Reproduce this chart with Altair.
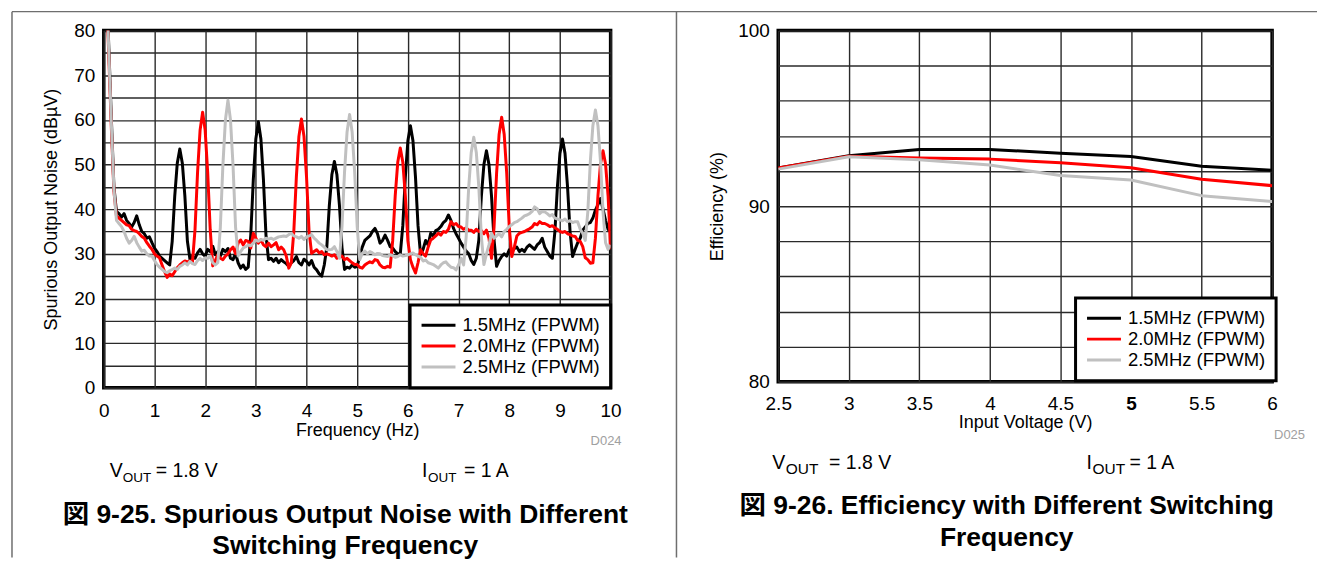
import altair as alt
import pandas as pd

# ---------------- data ----------------
FREQ = [round(0.05 * i, 2) for i in range(201)]  # Hz sampling grid 0..10
SERIES = ["1.5MHz (FPWM)", "2.0MHz (FPWM)", "2.5MHz (FPWM)"]
COLORS = ["#000000", "#ff0000", "#c0c0c0"]

NOISE_15 = [
    100, 92, 76, 60, 45, 39.5, 39, 38.2, 39, 37.5, 36.8, 36, 37, 38.5, 36.5, 35, 34.5, 33.5, 33.8, 32.5,
    31.3, 30.5, 29.5, 29, 28.5, 28, 27.5, 32.8, 42.9, 50.3, 53.5, 50.3, 42.9, 32.8, 28.8, 29.5, 29, 30.2, 31, 30,
    29.5, 31, 30.5, 31.7, 29.8, 30.5, 29.5, 31, 30.5, 31.2, 29, 28.7, 30.1, 28, 26.8, 27.5, 26.5, 27, 34.2, 46.6,
    55.7, 59.6, 55.7, 46.6, 34.2, 28.7, 29, 28.3, 29, 28, 28.7, 28.2, 27.8, 27.2, 28, 28.5, 29.4, 28, 27.5, 28.8,
    28.3, 27.5, 28.5, 27, 26.4, 25.5, 25, 27.5, 31.4, 40.8, 47.7, 50.7, 47.7, 40.8, 31.4, 26.5, 27, 26.8, 27.5, 27,
    27.2, 29.5, 31.5, 33, 33.5, 34, 35, 35.7, 34.5, 32.4, 33, 34.2, 33, 31.6, 31.3, 30.5, 30, 30, 36.3, 47.2,
    55.3, 58.7, 55.3, 47.2, 36.3, 29.8, 31, 33, 32, 34.6, 34, 35.2, 35.5, 36.1, 37, 37.5, 38.7, 37.5, 35.7, 34.5,
    33.5, 32.4, 31.5, 30.6, 30, 28.5, 27.6, 29, 33.1, 42.9, 50, 53.1, 50, 42.9, 33.1, 27.2, 28.5, 29.4, 30, 29.5,
    30.9, 30.5, 31.2, 31.5, 30.5, 31, 30.5, 31.5, 32, 31.5, 31, 32, 32.5, 33.5, 31.5, 30.5, 29.5, 29, 34.9, 45,
    52.5, 55.7, 52.5, 45, 34.9, 29.4, 31, 32.5, 33.5, 35.3, 36, 36.8, 37, 38, 39.8, 41, 42.4, 40, 37.5, 35.5,
    35,
]
NOISE_20 = [
    100, 90, 74, 58, 44, 38.5, 38, 37.5, 37, 36.5, 36.3, 35.5, 35.2, 35, 34.5, 33.9, 33.5, 32.5, 31.7, 31,
    30, 29.5, 29.1, 27.5, 26, 24.7, 25.5, 25.1, 26, 26.9, 27.5, 28, 28.4, 28.2, 28.4, 28.2, 35.4, 48.2, 57.7, 61.7,
    57.7, 48.2, 35.4, 27.3, 28.5, 29.8, 29, 28.7, 29.5, 30, 30.9, 31.5, 30, 32.4, 33.1, 32, 33, 32.8, 31.3, 34.6,
    33.5, 32.4, 33.2, 32, 31.6, 32.4, 31.6, 32, 32.5, 30.9, 31.5, 30.9, 29.5, 26.8, 28, 35.1, 47.3, 56.3, 60.2, 56.3,
    47.3, 35.1, 30.1, 30.5, 30.9, 30.2, 30.5, 29.8, 30, 29.8, 29.5, 29.8, 29, 29.4, 29.5, 28.7, 29, 28.5, 28, 27.6,
    27.6, 27, 26.8, 27.5, 27.9, 28.2, 28, 28.7, 28.5, 27.5, 27, 26.9, 27.2, 27, 32.9, 43, 50.5, 53.7, 50.5, 43,
    32.9, 28.7, 27, 25.7, 28, 30.9, 30, 29.5, 31.5, 33.1, 33.5, 34, 34.6, 34.2, 35, 34.8, 35.5, 37.2, 36.5, 36.8,
    36.1, 36, 35.5, 35.8, 35.3, 35.3, 34.8, 35.5, 35, 35.2, 34.5, 35.3, 33.5, 29, 36, 48, 56.8, 60.6, 56.8, 48,
    36, 29.4, 31.5, 34, 34.6, 34.8, 35, 35.3, 35.6, 36, 36.8, 36.5, 37.2, 36.8, 36.8, 36.5, 36.1, 36.3, 35.8, 35.5,
    35, 34.8, 35, 34.5, 34.3, 34, 33.9, 33, 32.8, 31.6, 29.1, 28.7, 27.9, 28, 33.5, 43, 50.1, 53.1, 50.1, 43,
    31,
]
NOISE_25 = [
    100, 91, 75, 59, 44.5, 37.5, 36.8, 36.1, 35, 33.5, 32.4, 33, 33.9, 32.5, 31.5, 30.6, 30.8, 30, 29.5, 29.5,
    28.5, 27.6, 27, 26.5, 26, 25.8, 26.2, 26.5, 26.8, 26.5, 27.2, 27.5, 28, 27.5, 28.3, 27.8, 27.6, 28.5, 29, 28.5,
    29.1, 29, 29.5, 28, 27.5, 28, 36, 49.8, 60, 64.4, 60, 49.8, 36, 29.5, 30.5, 31.3, 31.6, 32, 31.8, 32.4,
    33.1, 32.8, 33.2, 33, 33.5, 33.3, 33.5, 33.2, 33.5, 33.8, 33.9, 34, 33.9, 34.3, 34.6, 34, 33.8, 33.5, 33.9, 33.2,
    33.8, 34, 34.3, 33.5, 33, 32.4, 32, 31.5, 30.9, 30.9, 31, 31.6, 30.5, 29, 36.1, 48.3, 57.3, 61.2, 57.3, 48.3,
    36.1, 28.7, 30.1, 30.6, 30, 30.5, 30.2, 29.8, 30.1, 30, 29.6, 29.5, 29.4, 29.8, 29.6, 29.2, 29.4, 29.8, 29.5, 29.6,
    29.8, 30, 30.2, 29.8, 29.5, 29.2, 28.4, 28.6, 28, 27.8, 27.6, 27.2, 26.8, 27.5, 28, 28.2, 27.5, 27, 26.9, 26.4,
    27.5, 29, 27.5, 33.8, 44.9, 52.7, 56.1, 52.7, 44.9, 33.8, 27.6, 30, 32, 34.6, 33.5, 34, 34.5, 33.8, 35, 35.5,
    36.1, 36.5, 37, 37.2, 37.6, 38, 38.5, 38.7, 39, 39.5, 40.5, 40.1, 39, 39.5, 39.4, 39, 38.5, 38.8, 38, 37.8,
    37.6, 37.4, 37.8, 37.2, 37.4, 37, 37.2, 37.2, 35.5, 34.6, 33, 39.4, 50.7, 58.7, 62.2, 58.7, 50.7, 39.4, 32.5, 31,
    32,
]

VIN = [2.5, 3.0, 3.5, 4.0, 4.5, 5.0, 5.5, 6.0]
EFF_15 = [92.17, 92.87, 93.23, 93.23, 93.02, 92.83, 92.28, 92.04]
EFF_20 = [92.17, 92.85, 92.75, 92.68, 92.47, 92.19, 91.53, 91.17]
EFF_25 = [92.11, 92.81, 92.64, 92.34, 91.75, 91.49, 90.60, 90.26]

NOISE_X_TICKS = list(range(0, 11))
NOISE_Y_TICKS = list(range(0, 85, 5))
EFF_X_TICKS = [2.5, 3, 3.5, 4, 4.5, 5, 5.5, 6]
EFF_Y_TICKS = list(range(80, 102, 2))

NOISE_X_TITLE = "Frequency (Hz)"
NOISE_Y_TITLE = "Spurious Output Noise (dBµV)"
EFF_X_TITLE = "Input Voltage (V)"
EFF_Y_TITLE = "Efficiency (%)"

LEFT_CAPTION = ["図 9-25. Spurious Output Noise with Different", "Switching Frequency"]
RIGHT_CAPTION = ["図 9-26. Efficiency with Different Switching", "Frequency"]
COND_V = ["V", "OUT", "= 1.8 V"]
COND_I = ["I", "OUT", "= 1 A"]
CODES = ["D024", "D025"]

# ---------------- tables ----------------
assert len(NOISE_15) == len(NOISE_20) == len(NOISE_25) == len(FREQ)
noise_rows = []
for name, vals in zip(SERIES, [NOISE_15, NOISE_20, NOISE_25]):
    for f, v in zip(FREQ, vals):
        noise_rows.append({"f": f, "v": v, "series": name})
noise_df = pd.DataFrame(noise_rows)

eff_rows = []
for name, vals in zip(SERIES, [EFF_15, EFF_20, EFF_25]):
    for x, v in zip(VIN, vals):
        eff_rows.append({"vin": x, "eff": v, "series": name})
eff_df = pd.DataFrame(eff_rows)

FONT = "Liberation Sans, Arial, Helvetica, Noto Sans CJK JP, sans-serif"
FRAME = "#6e6e6e"
ONE = pd.DataFrame({"k": [0]})


def txt(s, x, y, size=19.5, weight="normal", color="black", align="left"):
    return alt.Chart(ONE).mark_text(
        text=s, fontSize=size, fontWeight=weight, color=color, align=align,
        baseline="alphabetic", font=FONT,
    ).encode(x=alt.value(x), y=alt.value(y))


def vline(x, y1, y2):
    return alt.Chart(ONE).mark_rule(color=FRAME, strokeWidth=1.5).encode(
        x=alt.value(x), y=alt.value(y1), y2=alt.value(y2))


def hline(x1, x2, y):
    return alt.Chart(ONE).mark_rule(color=FRAME, strokeWidth=1.5).encode(
        x=alt.value(x1), x2=alt.value(x2), y=alt.value(y))


def color_enc(lx, ly):
    return alt.Color(
        "series:N",
        scale=alt.Scale(domain=SERIES, range=COLORS),
        legend=alt.Legend(
            orient="none", legendX=lx, legendY=ly, title=None,
            symbolType="M-2,0H2", symbolSize=289, symbolStrokeWidth=3,
            symbolOffset=8.5, labelOffset=14, clipHeight=20.5,
            labelFontSize=18.5, labelFont=FONT, labelColor="black",
            padding=10, rowPadding=0,
            strokeColor="black", fillColor="white",
        ),
    )


def axis(values, title, label_expr=None, **kw):
    args = dict(values=values, title=title, grid=True, ticks=False, domain=False,
                labelFlush=False, labelOverlap=False, labelFontSize=19,
                titleFontSize=18, labelFont=FONT, titleFont=FONT,
                labelColor="black", titleColor="black", titleFontWeight="normal",
                gridColor="#2a2a2a", gridWidth=1.4, gridOpacity=1)
    if label_expr:
        args["labelExpr"] = label_expr
    args.update(kw)
    return alt.Axis(**args)


# ---------------- left: spurious noise ----------------
noise_lines = alt.Chart(noise_df).mark_line(strokeWidth=3, clip=True, strokeJoin="round").encode(
    x=alt.X("f:Q", scale=alt.Scale(domain=[0, 10], nice=False),
            axis=axis(NOISE_X_TICKS, NOISE_X_TITLE, format="d", labelPadding=14, titlePadding=1)),
    y=alt.Y("v:Q", scale=alt.Scale(domain=[0, 80], nice=False),
            axis=axis(NOISE_Y_TICKS, NOISE_Y_TITLE,
                      "datum.value % 10 == 0 ? datum.label : ''",
                      labelPadding=9, titlePadding=13)),
    color=color_enc(307, 275),
)

left_decor = [
    hline(-92, 1216, -19),
    vline(-92, -19, 528),
    txt(COND_V[0], 6, 447), txt(COND_V[1], 19, 452, size=13.5), txt(COND_V[2], 52, 447),
    txt(COND_I[0], 319, 447), txt(COND_I[1], 325, 452, size=13.5), txt(COND_I[2], 361, 447),
    txt(CODES[0], 519, 415, size=13, color="#a0a0a0", align="right"),
    txt(LEFT_CAPTION[0], 242, 494, size=26.5, weight="bold", align="center"),
    txt(LEFT_CAPTION[1], 242, 525, size=26.5, weight="bold", align="center"),
]
left = alt.layer(noise_lines, *left_decor).properties(width=508, height=358)

# ---------------- right: efficiency ----------------
eff_lines = alt.Chart(eff_df).mark_line(strokeWidth=3, clip=True, strokeJoin="round").encode(
    x=alt.X("vin:Q", scale=alt.Scale(domain=[2.5, 6], nice=False),
            axis=axis(EFF_X_TICKS, EFF_X_TITLE, format="~g", labelPadding=13, titlePadding=0,
                      labelFontWeight={"expr": "datum.value == 5 ? 'bold' : 'normal'"})),
    y=alt.Y("eff:Q", scale=alt.Scale(domain=[80, 100], nice=False, zero=False),
            axis=axis(EFF_Y_TICKS, EFF_Y_TITLE,
                      "datum.value % 10 == 0 ? datum.label : ''",
                      labelPadding=9, titlePadding=11)),
    color=color_enc(298, 268),
)

right_decor = [
    vline(-102, -19, 528),
    txt(COND_V[0], -6, 439), txt(COND_V[1], 7.5, 444, size=15.5), txt(COND_V[2], 51, 439),
    txt(COND_I[0], 309, 439), txt(COND_I[1], 315, 444, size=15.5), txt(COND_I[2], 352, 439),
    txt(CODES[1], 528, 409, size=13, color="#a0a0a0", align="right"),
    txt(RIGHT_CAPTION[0], 229, 485, size=26.5, weight="bold", align="center"),
    txt(RIGHT_CAPTION[1], 229, 517, size=26.5, weight="bold", align="center"),
]
right = alt.layer(eff_lines, *right_decor).properties(width=495, height=352)

chart = (
    alt.hconcat(left, right, spacing=168, bounds="flush")
    .resolve_scale(color="independent")
    .resolve_legend(color="independent")
    .properties(padding={"left": 1, "top": 0, "right": 0, "bottom": 0})
    .configure_view(stroke="black", strokeWidth=3.5)
    .configure_legend(strokeWidth=3)
)

chart.save("out.html", embed_options={"renderer": "svg", "actions": False})
